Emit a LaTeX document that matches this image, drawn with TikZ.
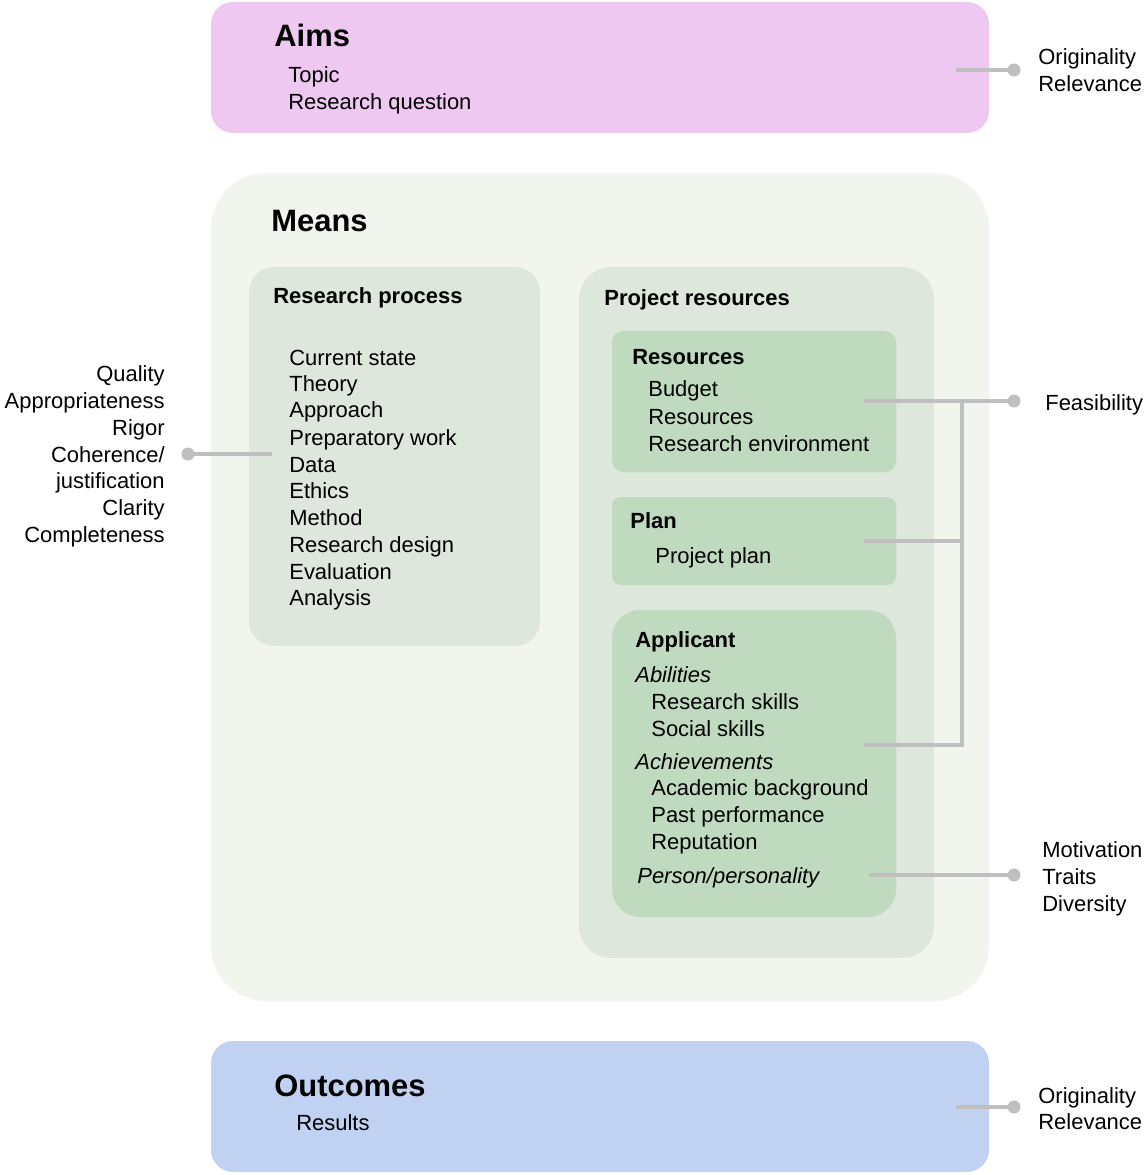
\documentclass[tikz,border=0pt]{standalone}
\usepackage{fontspec}
\setmainfont{Liberation Sans}
\definecolor{aimsc}{RGB}{239,200,242}
\definecolor{meansc}{RGB}{241,245,238}
\definecolor{innerc}{RGB}{222,231,219}
\definecolor{boxc}{RGB}{192,218,192}
\definecolor{outc}{RGB}{193,209,242}
\definecolor{linegray}{RGB}{191,191,191}
\tikzset{
  body/.style={anchor=base west, inner sep=0pt, font=\fontsize{12.5}{15}\selectfont},
  bodyr/.style={anchor=base east, inner sep=0pt, font=\fontsize{12.5}{15}\selectfont},
  head/.style={anchor=base west, inner sep=0pt, font=\fontsize{12.5}{15}\selectfont\bfseries},
  ital/.style={anchor=base west, inner sep=0pt, font=\fontsize{12.5}{15}\selectfont\itshape},
  titletext/.style={anchor=base west, inner sep=0pt, font=\fontsize{17.6}{21}\selectfont\bfseries},
  conn/.style={draw=linegray, line width=0.08cm},
  dot/.style={circle, fill=linegray, inner sep=0pt, minimum size=0.26cm},
}
\begin{document}
\begin{tikzpicture}[x=0.02cm,y=-0.02cm]
\useasboundingbox (0,0) rectangle (1143,1175);
% panels
\fill[aimsc, rounded corners=0.44cm] (211,2) rectangle (989,133);
\fill[meansc, rounded corners=1.1cm] (211,173) rectangle (989,1001);
\fill[innerc, rounded corners=0.5cm] (249,267) rectangle (540,646);
\fill[innerc, rounded corners=0.64cm] (579,267) rectangle (934,958);
\fill[boxc, rounded corners=0.22cm] (612,331) rectangle (896,472);
\fill[boxc, rounded corners=0.18cm] (612,497) rectangle (896,585);
\fill[boxc, rounded corners=0.56cm] (612,610) rectangle (896,917);
\fill[outc, rounded corners=0.44cm] (211,1041) rectangle (989,1172);

% Aims
\node[titletext] (aims) at (274,47) {Aims};
\node[body] (topic) at (288,83) {Topic};
\node[body] (rq) at (288,110) {Research question};
\node[body] (orig1) at (1038,65) {Originality};
\node[body] (rel1) at (1038,92) {Relevance};

% Means
\node[titletext] (means) at (271,232) {Means};
\node[head] (rp) at (273,304) {Research process};
\node[body] (rp1) at (289,365) {Current state};
\node[body] (rp2) at (289,392) {Theory};
\node[body] (rp3) at (289,418) {Approach};
\node[body] (rp4) at (289,445) {Preparatory work};
\node[body] (rp5) at (289,472) {Data};
\node[body] (rp6) at (289,498) {Ethics};
\node[body] (rp7) at (289,525) {Method};
\node[body] (rp8) at (289,552) {Research design};
\node[body] (rp9) at (289,579) {Evaluation};
\node[body] (rp10) at (289,605) {Analysis};

\node[bodyr] (q1) at (165,381) {Quality};
\node[bodyr] (q2) at (165,408) {Appropriateness};
\node[bodyr] (q3) at (165,435) {Rigor};
\node[bodyr] (q4) at (165,462) {Coherence/};
\node[bodyr] (q5) at (165,488) {justification};
\node[bodyr] (q6) at (165,515) {Clarity};
\node[bodyr] (q7) at (165,542) {Completeness};

\node[head] (pr) at (604,306) {Project resources};
\node[head] (res) at (632,364) {Resources};
\node[body] (res1) at (648,397) {Budget};
\node[body] (res2) at (648,424) {Resources};
\node[body] (res3) at (648,451) {Research environment};
\node[head] (plan) at (630,528) {Plan};
\node[body] (plan1) at (655,563) {Project plan};
\node[head] (app) at (635,647) {Applicant};
\node[ital] (abil) at (635,682) {Abilities};
\node[body] (ab1) at (651,709) {Research skills};
\node[body] (ab2) at (651,736) {Social skills};
\node[ital] (ach) at (635,769) {Achievements};
\node[body] (ach1) at (651,795) {Academic background};
\node[body] (ach2) at (651,822) {Past performance};
\node[body] (ach3) at (651,849) {Reputation};
\node[ital] (pers) at (637,883) {Person/personality};

\node[body] (feas) at (1045,410) {Feasibility};
\node[body] (mot) at (1042,857) {Motivation};
\node[body] (trait) at (1042,884) {Traits};
\node[body] (div) at (1042,911) {Diversity};

% Outcomes
\node[titletext] (outc) at (274,1096) {Outcomes};
\node[body] (resu) at (296,1130) {Results};
\node[body] (orig2) at (1038,1103) {Originality};
\node[body] (rel2) at (1038,1129) {Relevance};

% connectors
\coordinate (aimsL) at (956,70);
\node[dot] (aimsD) at (1014,70) {};
\draw[conn] (aimsL) -- (aimsD.center);

\coordinate (rpR) at (272,454);
\node[dot] (rpD) at (188,454) {};
\draw[conn] (rpR) -- (rpD.center);

\coordinate (resL) at (864,401);
\coordinate (planL) at (864,541);
\coordinate (appL) at (864,745);
\coordinate (junT) at (962,401);
\coordinate (junM) at (962,541);
\coordinate (junB) at (962,745);
\node[dot] (feasD) at (1014,401) {};
\draw[conn] (resL) -- (feasD.center);
\draw[conn] (planL) -- (junM);
\draw[conn] (appL) -- (junB) -- (junT);

\coordinate (persL) at (869,875);
\node[dot] (persD) at (1014,875) {};
\draw[conn] (persL) -- (persD.center);

\coordinate (outL) at (956,1107);
\node[dot] (outD) at (1014,1107) {};
\draw[conn] (outL) -- (outD.center);
\end{tikzpicture}
\end{document}
